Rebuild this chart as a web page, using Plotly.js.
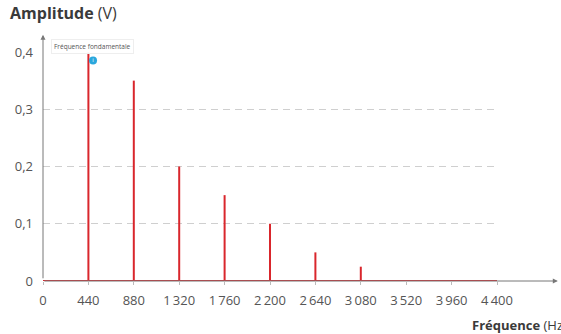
<!DOCTYPE html>
<html>
<head>
<meta charset="utf-8">
<script src="https://cdn.plot.ly/plotly-3.0.1.min.js"></script>
<style>
html,body{margin:0;padding:0;background:#fff;}
#chart{width:561px;height:334px;}
</style>
</head>
<body>
<div id="chart"></div>
<script>
// Data
const frequencies = [440, 880, 1320, 1760, 2200, 2640, 3080];
const amplitudes = [0.4, 0.35, 0.2, 0.15, 0.1, 0.05, 0.025];
const xTickVals = [0, 440, 880, 1320, 1760, 2200, 2640, 3080, 3520, 3960, 4400];
const xTickText = ["0", "440", "880", "1\u2009320", "1\u2009760", "2\u2009200", "2\u2009640", "3\u2009080", "3\u2009520", "3\u2009960", "4\u2009400"];
const yTickVals = [0, 0.1, 0.2, 0.3, 0.4];
const yTickText = ["0", "0,1", "0,2", "0,3", "0,4"];
const baseline = [0, 4400];
const markerPoint = {x: [485], y: [0.385]};

const FONT = "'Open Sans', 'Noto Sans', sans-serif";
const RED = "#d9262c";

const stemX = [], stemY = [];
frequencies.forEach((f, i) => { stemX.push(f, f, null); stemY.push(0, amplitudes[i], null); });

const traces = [
  {x: baseline, y: [0, 0], mode: "lines", line: {color: RED, width: 2}, hoverinfo: "skip", cliponaxis: false},
  {x: stemX, y: stemY, mode: "lines", line: {color: RED, width: 2}, hoverinfo: "skip", cliponaxis: false},
  {x: markerPoint.x, y: markerPoint.y, mode: "markers+text", marker: {color: "#2aa7dd", size: 8},
   text: ["i"], textposition: "middle center", textfont: {size: 6, color: "#fff", family: FONT},
   hoverinfo: "skip", cliponaxis: false}
];

const layout = {
  width: 561, height: 334,
  margin: {l: 43, r: 64, t: 52, b: 53},
  paper_bgcolor: "#fff", plot_bgcolor: "#fff",
  showlegend: false,
  font: {family: FONT, color: "#555", size: 12},
  xaxis: {
    range: [0, 4400], tickvals: xTickVals, ticktext: xTickText,
    showgrid: false, zeroline: false, showline: false,
    ticks: "outside", ticklen: 3, tickcolor: "#bbb", ticklabelstandoff: 4,
    tickfont: {size: 13, color: "#555", family: FONT}, fixedrange: true
  },
  yaxis: {
    range: [0, 0.4], tickvals: yTickVals, ticktext: yTickText,
    showgrid: true, gridcolor: "#cfcfcf", griddash: "7px,5px", gridwidth: 1,
    zeroline: false, showline: false, ticks: "", ticklabelstandoff: 9,
    tickfont: {size: 13, color: "#555", family: FONT}, fixedrange: true
  },
  annotations: [
    {xref: "paper", yref: "paper", x: 0, y: 1.075, ax: 0, ay: 245, axref: "pixel", ayref: "pixel",
     showarrow: true, arrowhead: 2, arrowsize: 1, arrowwidth: 1, arrowcolor: "#777", text: ""},
    {xref: "paper", yref: "paper", x: 1.134, y: 0, ax: -515, ay: 0,
     showarrow: true, arrowhead: 2, arrowsize: 1, arrowwidth: 1, arrowcolor: "#777", text: ""},
    {xref: "paper", yref: "paper", x: -0.077, y: 1.172, xanchor: "left", yanchor: "middle", showarrow: false,
     text: "<b>Amplitude</b> (V)", font: {family: FONT, size: 16, color: "#3a3a3a"}},
    {xref: "paper", yref: "paper", x: 0.941, y: -0.192, xanchor: "left", yanchor: "middle", showarrow: false,
     text: "<b>Fréquence</b> (Hz)", font: {family: FONT, size: 13, color: "#3a3a3a"}},
    {xref: "paper", yref: "paper", x: 0.108, y: 1.026, xanchor: "center", yanchor: "middle", showarrow: false,
     text: "Fréquence fondamentale", font: {family: FONT, size: 6.5, color: "#555"},
     bgcolor: "rgba(255,255,255,0.95)", bordercolor: "#eee", borderwidth: 1, borderpad: 2}
  ]
};

Plotly.newPlot("chart", traces, layout, {displayModeBar: false, staticPlot: true});
</script>
</body>
</html>
